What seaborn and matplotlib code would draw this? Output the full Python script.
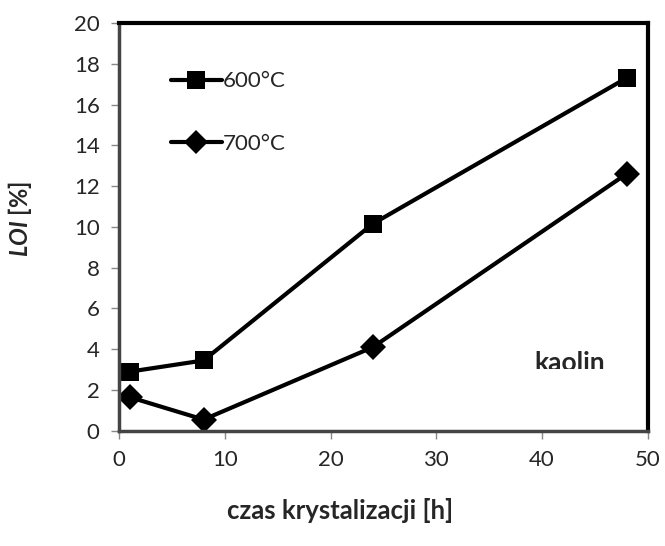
import numpy as np
import pandas as pd
import matplotlib
matplotlib.use("Agg")
import matplotlib.pyplot as plt
import matplotlib.transforms as mtransforms
import seaborn as sns

hours = [1, 8, 24, 48]
loi_600 = [2.9, 3.45, 10.15, 17.3]
loi_700 = [1.65, 0.55, 4.1, 12.6]
series = ["600°C", "700°C"]

df = pd.DataFrame({
    "h": hours * 2,
    "loi": loi_600 + loi_700,
    "temp": [series[0]] * 4 + [series[1]] * 4,
})

sns.set_style("white")
plt.rcParams['font.family'] = ['Lato', 'DejaVu Sans']
plt.rcParams['mathtext.fontset'] = 'custom'
plt.rcParams['mathtext.it'] = 'Lato:italic:bold'

fig = plt.figure(figsize=(6.65, 5.46), dpi=100)
ax = fig.add_axes([0.179, 0.211, 0.795, 0.747])

sns.lineplot(data=df, x="h", y="loi", hue="temp", style="temp",
             palette={series[0]: "black", series[1]: "black"},
             markers={series[0]: "s", series[1]: "D"},
             dashes=False, linewidth=3, markeredgewidth=0, ax=ax, legend=False)
for line, ms in zip(ax.lines, [13.5, 13]):
    line.set_markersize(ms)

ax.set_xlim(0, 50)
ax.set_ylim(0, 20)
ax.set_xticks(np.arange(0, 51, 10))
ax.set_yticks(np.arange(0, 21, 2))
ax.tick_params(axis="both", direction="out", length=6, width=1, color="#888888",
               labelsize=16, bottom=True, left=True, pad=8)
for side in ["top", "right"]:
    ax.spines[side].set_linewidth(3)
    ax.spines[side].set_color("black")
for side in ["left", "bottom"]:
    ax.spines[side].set_linewidth(2.5)
    ax.spines[side].set_color("#444444")

ax.set_xlabel("czas krystalizacji [h]", fontsize=18.5, fontweight="bold")
ax.xaxis.set_label_coords(0.418, -0.165)
ax.set_ylabel(r"$\mathit{LOI}$ [%]", fontsize=17, fontweight="bold")
ax.yaxis.set_label_coords(-0.16, 0.52)

handles = [plt.Line2D([], [], color="black", lw=3, marker=m, ms=s, mew=0)
           for m, s in zip(["s", "D"], [13.5, 12])]
leg = ax.legend(handles, series, loc="upper left", bbox_to_anchor=(0.06, 0.93),
                frameon=False, fontsize=16, handlelength=2.3, handletextpad=0.05,
                labelspacing=1.9)

kao = ax.text(0.92, 2.92 / 20, "kaolin", transform=ax.transAxes, fontsize=19,
              fontweight="bold", ha="right", va="baseline")
clip = mtransforms.TransformedBbox(mtransforms.Bbox([[0, 3.05], [50, 20]]), ax.transData)
kao.set_clip_box(clip)
kao.set_clip_on(True)

fig.savefig("out.png", dpi=100)
